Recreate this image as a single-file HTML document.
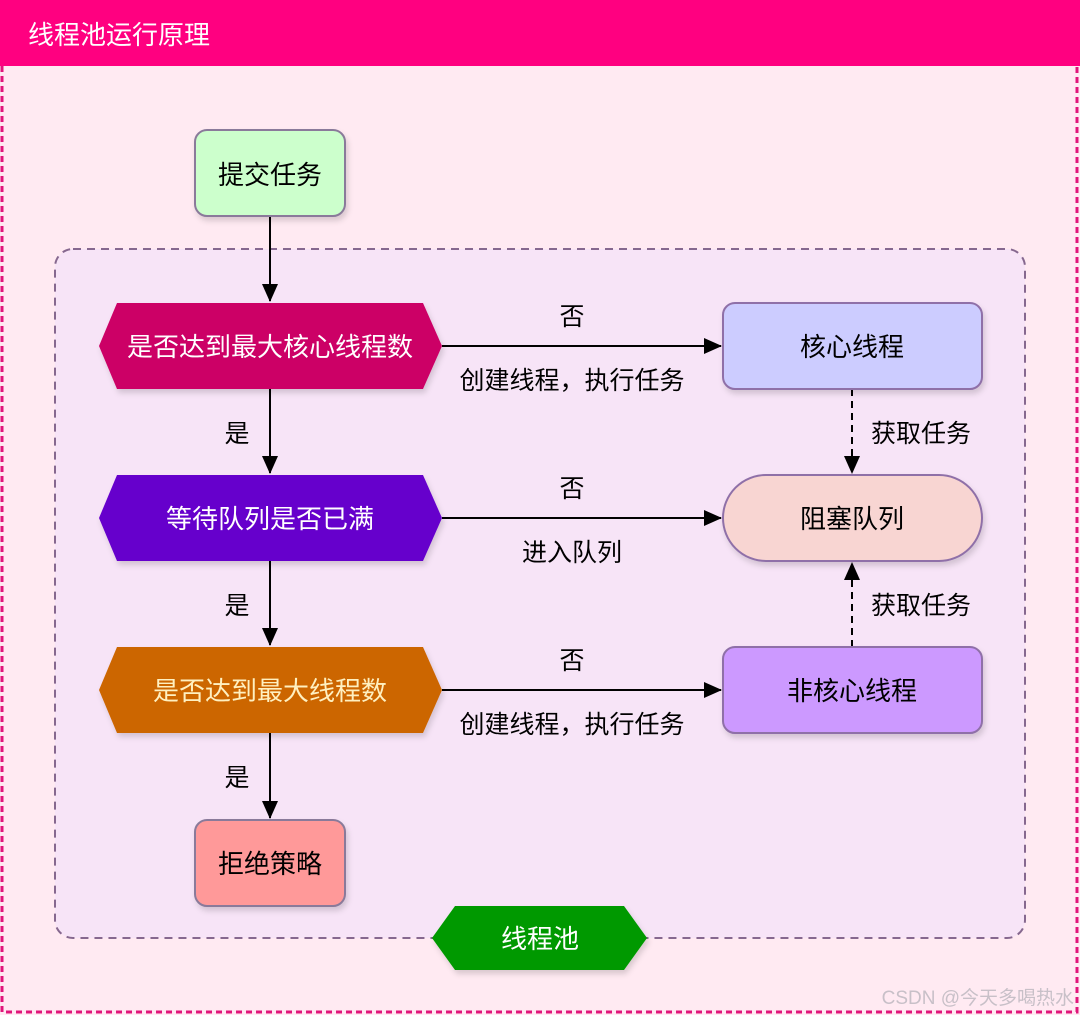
<!DOCTYPE html>
<html><head><meta charset="utf-8"><style>
html,body{margin:0;padding:0;width:1080px;height:1015px;overflow:hidden;background:#FFEAF2}
svg text{font-family:"Liberation Sans","Noto Sans CJK SC",sans-serif}
</style></head><body>
<svg width="1080" height="1015" viewBox="0 0 1080 1015" xmlns="http://www.w3.org/2000/svg">
<defs>
<marker id="b" markerWidth="18" markerHeight="18" refX="17" refY="8" orient="auto" markerUnits="userSpaceOnUse"><path d="M0,0L18,8L0,16z" fill="#000"/></marker>
<filter id="s" x="-10%" y="-10%" width="130%" height="140%"><feDropShadow dx="2" dy="4" stdDeviation="3" flood-color="#000" flood-opacity="0.15"/></filter>
</defs>
<rect x="0" y="0" width="1080" height="1015" fill="#FFEAF2"/>
<rect x="0" y="0" width="1080" height="66" fill="#FF0080"/>
<text x="28" y="44" font-size="26" fill="#fff">线程池运行原理</text>
<path d="M2,66V1012H1077V66" fill="none" stroke="#E0157A" stroke-width="3" stroke-dasharray="6,4"/>
<rect x="55" y="249" width="970" height="689" rx="18" fill="#F7E4F7" stroke="#86688F" stroke-width="2" stroke-dasharray="8,6"/>

<g stroke="#000" stroke-width="2" fill="none">
<line x1="270" y1="216" x2="270" y2="301" marker-end="url(#b)"/>
<line x1="270" y1="389" x2="270" y2="473" marker-end="url(#b)"/>
<line x1="270" y1="561" x2="270" y2="645" marker-end="url(#b)"/>
<line x1="270" y1="733" x2="270" y2="818" marker-end="url(#b)"/>
<line x1="442" y1="346" x2="721" y2="346" marker-end="url(#b)"/>
<line x1="442" y1="518" x2="721" y2="518" marker-end="url(#b)"/>
<line x1="442" y1="690" x2="721" y2="690" marker-end="url(#b)"/>
<line x1="852" y1="389" x2="852" y2="473" stroke-dasharray="7,5" marker-end="url(#b)"/>
<line x1="852" y1="647" x2="852" y2="563" stroke-dasharray="7,5" marker-end="url(#b)"/>
</g>

<g filter="url(#s)">
<rect x="195" y="130" width="150" height="86" rx="12" fill="#CCFFCC" stroke="#8A7A9A" stroke-width="2"/>
<polygon points="99,346 117,303 423,303 442,346 423,389 117,389" fill="#CC0066"/>
<polygon points="99,518 117,475 423,475 442,518 423,561 117,561" fill="#6600CC"/>
<polygon points="99,690 117,647 423,647 442,690 423,733 117,733" fill="#CC6600"/>
<rect x="195" y="820" width="150" height="86" rx="12" fill="#FF9999" stroke="#8A7A9A" stroke-width="2"/>
<rect x="723" y="303" width="259" height="86" rx="12" fill="#CCCCFF" stroke="#8F6FA8" stroke-width="2"/>
<rect x="723" y="475" width="259" height="86" rx="43" fill="#F8D5D2" stroke="#8F6FA8" stroke-width="2"/>
<rect x="723" y="647" width="259" height="86" rx="12" fill="#CC99FF" stroke="#8F6FA8" stroke-width="2"/>
<polygon points="432,938 455,906 624,906 647,938 624,970 455,970" fill="#009900"/>
</g>

<g font-size="26" text-anchor="middle">
<text x="270" y="184" fill="#000">提交任务</text>
<text x="270" y="356" fill="#fff">是否达到最大核心线程数</text>
<text x="270" y="528" fill="#fff">等待队列是否已满</text>
<text x="270" y="700" fill="#FFF0C0">是否达到最大线程数</text>
<text x="270" y="873" fill="#000">拒绝策略</text>
<text x="852" y="356" fill="#000">核心线程</text>
<text x="852" y="528" fill="#000">阻塞队列</text>
<text x="852" y="700" fill="#000">非核心线程</text>
<text x="540" y="948" fill="#fff">线程池</text>
</g>
<g font-size="25" text-anchor="middle" fill="#000">
<text x="572" y="325">否</text>
<text x="572" y="389">创建线程，执行任务</text>
<text x="572" y="497">否</text>
<text x="572" y="561">进入队列</text>
<text x="572" y="669">否</text>
<text x="572" y="733">创建线程，执行任务</text>
<text x="237" y="442">是</text>
<text x="237" y="614">是</text>
<text x="237" y="786">是</text>
<text x="921" y="442">获取任务</text>
<text x="921" y="614">获取任务</text>
</g>
<text x="1074" y="1004" font-size="19" text-anchor="end" fill="#C8C0C8">CSDN @今天多喝热水</text>
</svg>
</body></html>
